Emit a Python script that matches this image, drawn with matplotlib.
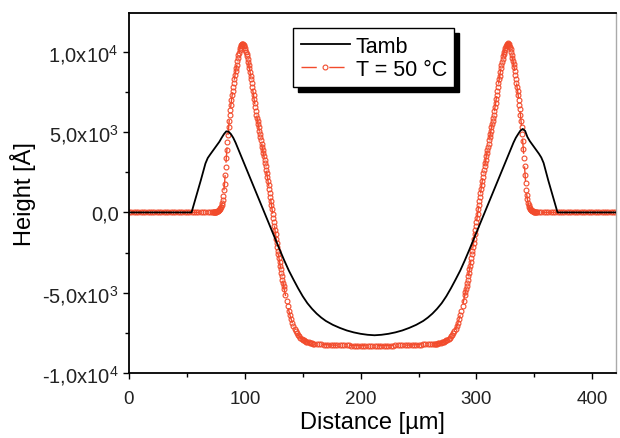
import numpy as np
import matplotlib
matplotlib.use('Agg')
import matplotlib.pyplot as plt
from matplotlib.ticker import FixedLocator, FixedFormatter, MultipleLocator

plt.rcParams['font.family'] = ['Liberation Sans', 'DejaVu Sans']
plt.rcParams['mathtext.default'] = 'regular'

# ---------------- data ----------------
# Black curve: T_amb (distance in um, height in Angstrom)
black_x = [0, 54, 58, 62, 66, 68, 70, 72, 74, 76, 78, 80, 82, 84, 86, 88, 90, 92, 94, 96,
           98, 100, 102, 104, 106, 108, 110, 112, 114, 116, 118, 120, 122, 124, 126, 128,
           130, 134, 138, 142, 146, 150, 154, 158, 162, 166, 170, 176, 182, 188, 194, 200,
           206, 212, 218, 224, 230, 236, 242, 248, 254, 258, 262, 266, 270, 274, 278, 282,
           286, 290, 294, 296, 298, 300, 302, 304, 306, 308, 310, 312, 314, 316, 318, 320,
           322, 324, 326, 328, 330, 332, 334, 336, 338, 340, 342, 344, 346, 348, 350, 352,
           354, 356, 358, 362, 366, 370, 420]
black_y = [0, 0, 1000, 2000, 3050, 3390, 3600, 3800, 4000, 4200, 4400, 4650, 4880, 5050,
           5030, 4880, 4650, 4350, 4000, 3650, 3300, 2950, 2600, 2250, 1900, 1550, 1200,
           850, 500, 150, -200, -550, -900, -1250, -1600, -1950,
           -2300, -2980, -3620, -4180, -4720, -5220, -5650, -6000, -6300, -6550, -6760,
           -7000, -7190, -7350, -7470, -7560, -7620, -7650, -7620, -7560, -7470, -7350,
           -7190, -7000, -6760, -6550, -6300, -6000, -5650, -5220, -4720, -4180, -3620,
           -2980, -2300, -1950, -1600, -1250, -900, -550, -200, 150, 500, 850, 1200, 1550,
           1900, 2250, 2600, 2950, 3300, 3650, 4000, 4350, 4650, 4880, 5100, 5200, 5080,
           4700, 4450, 4250, 4050, 3850, 3650, 3420, 3080, 2000, 1000, 0, 0]

# Red curve: T = 50 C, sampled in segments (start, step, values)
red_seg1_start, red_seg1_step = 0, 2
red_seg1_y = [0, 0, 0, 0, 0, 0, 0, 0, 0, 0,
              0, 0, 0, 0, 0, 0, 0, 0, 0, 0,
              0, 0, 0, 0, 0, 0, 0, 0, 0, 0,
              0, 0, 0, 0, 0, 0, 0]
red_seg2_start, red_seg2_step = 72.5, 0.5
red_seg2_y = [0, 10, 15, 20, 30, 40, 55, 70, 90, 110,
              140, 170, 220, 280, 360, 450, 600, 800, 1050, 1400,
              1800, 2300, 2850, 3400, 3900, 4400, 4850, 5300, 5700, 6050,
              6400, 6700, 7000, 7300, 7550, 7800, 8050, 8300, 8550, 8800,
              9000, 9200, 9400, 9600, 9780, 9950, 10100, 10230, 10340, 10420,
              10460, 10480, 10460, 10410, 10340, 10250, 10140, 10020, 9880, 9730,
              9560, 9380, 9180, 8970, 8750, 8520, 8280, 8040, 7790, 7540,
              7290, 7040, 6800, 6560, 6320, 6090, 5890, 5690, 5490, 5290,
              5090, 4890, 4690, 4490, 4290, 4090, 3890, 3690, 3490, 3290,
              3080, 2870, 2650, 2430, 2200, 1960, 1720, 1470, 1220, 970,
              710, 450, 190, -70, -330, -590, -850, -1110, -1370, -1630,
              -1880, -2130, -2380, -2620, -2860, -3090, -3320, -3540, -3760, -3970,
              -4180, -4380, -4580, -4770]
red_seg3_start, red_seg3_step = 135, 1
red_seg3_y = [-5140, -5490, -5820, -6120, -6400, -6650, -6870, -7060, -7230, -7380,
              -7510, -7620, -7710, -7790, -7860, -7920, -7970, -8010, -8050, -8080,
              -8100, -8120, -8140, -8160, -8170, -8180]
red_seg4_start, red_seg4_step = 162, 2
red_seg4_y = [-8200, -8210, -8220, -8230, -8240, -8250, -8255, -8260, -8265, -8270,
              -8275, -8280, -8280, -8285, -8285, -8290, -8290, -8290, -8295, -8295,
              -8300, -8300, -8300, -8300, -8300, -8300, -8300, -8300, -8300, -8295,
              -8295, -8290, -8290, -8290, -8285, -8285, -8280, -8280, -8275, -8270,
              -8265, -8260, -8255, -8250, -8240, -8230, -8220, -8210, -8200, -8190,
              -8185]
red_seg5_start, red_seg5_step = 263, 1
red_seg5_y = [-8190, -8185, -8180, -8170, -8160, -8140, -8120, -8100, -8080, -8050,
              -8010, -7970, -7920, -7860, -7790, -7710, -7620, -7510, -7380, -7230,
              -7060, -6870, -6650, -6400, -6120, -5820, -5490, -5140]
red_seg6_start, red_seg6_step = 290.5, 0.5
red_seg6_y = [-4960, -4770, -4580, -4380, -4180, -3970, -3760, -3540, -3320, -3090,
              -2860, -2620, -2380, -2130, -1880, -1630, -1370, -1110, -850, -590,
              -330, -70, 190, 450, 710, 970, 1220, 1470, 1720, 1960,
              2200, 2430, 2650, 2870, 3080, 3290, 3490, 3690, 3890, 4090,
              4290, 4490, 4690, 4890, 5090, 5290, 5490, 5690, 5890, 6090,
              6320, 6560, 6800, 7040, 7290, 7540, 7790, 8040, 8280, 8520,
              8750, 8970, 9180, 9380, 9560, 9730, 9880, 10020, 10140, 10250,
              10340, 10410, 10470, 10510, 10540, 10480, 10390, 10280, 10150, 9990,
              9820, 9640, 9440, 9240, 9040, 8830, 8580, 8330, 8080, 7830,
              7580, 7320, 7020, 6720, 6420, 6070, 5720, 5320, 4870, 4420,
              3920, 3420, 2870, 2320, 1820, 1420, 1060, 810, 610, 450,
              360, 280, 220, 170, 140, 110, 90, 70, 55, 40,
              30, 20, 15, 10]
red_seg7_start, red_seg7_step = 354, 2
red_seg7_y = [0, 0, 0, 0, 0, 0, 0, 0, 0, 0,
              0, 0, 0, 0, 0, 0, 0, 0, 0, 0,
              0, 0, 0, 0, 0, 0, 0, 0, 0, 0,
              0, 0, 0, 0]

x_ticks = [0, 100, 200, 300, 400]
x_ticklabels = ['0', '100', '200', '300', '400']
y_ticks = [-10000, -5000, 0, 5000, 10000]
y_ticklabels = ['-1,0x10$^4$', '-5,0x10$^3$', '0,0', '5,0x10$^3$', '1,0x10$^4$']
labels = ['Tamb', 'T = 50 °C']

# ---------------- build red series ----------------
segs = [(red_seg1_start, red_seg1_step, red_seg1_y), (red_seg2_start, red_seg2_step, red_seg2_y),
        (red_seg3_start, red_seg3_step, red_seg3_y), (red_seg4_start, red_seg4_step, red_seg4_y),
        (red_seg5_start, red_seg5_step, red_seg5_y), (red_seg6_start, red_seg6_step, red_seg6_y),
        (red_seg7_start, red_seg7_step, red_seg7_y)]
red_x = np.concatenate([s + st * np.arange(len(v)) for s, st, v in segs])
red_y = np.concatenate([np.asarray(v, float) for _, _, v in segs])

RED = '#f24b2c'

fig = plt.figure(figsize=(6.2, 4.39), dpi=100)
ax = fig.add_axes([129 / 620, 1 - 374 / 439, 487 / 620, 360 / 439])

hr, = ax.plot(red_x, red_y, color=RED, lw=1.0, dashes=(11, 9), marker='o', ms=3.5,
              mfc='none', mec=RED, mew=0.8, label=labels[1], zorder=2)
hb, = ax.plot(black_x, black_y, color='black', lw=1.3, label=labels[0], zorder=3)

ax.set_xlim(0, 420.5)
ax.set_ylim(-10000, 12420)

ax.xaxis.set_major_locator(FixedLocator(x_ticks))
ax.xaxis.set_major_formatter(FixedFormatter(x_ticklabels))
ax.xaxis.set_minor_locator(MultipleLocator(50))
ax.yaxis.set_major_locator(FixedLocator(y_ticks))
ax.yaxis.set_major_formatter(FixedFormatter(y_ticklabels))
ax.yaxis.set_minor_locator(MultipleLocator(2500))

ax.tick_params(axis='both', which='major', direction='out', length=4.5, width=1.0,
               colors='black')
ax.tick_params(axis='x', which='major', labelsize=13.5, pad=8)
ax.tick_params(axis='y', which='major', labelsize=14.5, pad=3)
ax.tick_params(axis='both', which='minor', direction='out', length=3, width=1.0)
ax.tick_params(top=False, right=False, which='both')
for lab in ax.get_xticklabels() + ax.get_yticklabels():
    lab.set_color('#222222')

for s in ['left', 'bottom', 'top']:
    ax.spines[s].set_linewidth(1.3)
    ax.spines[s].set_color('black')
ax.spines['right'].set_linewidth(1.0)
ax.spines['right'].set_color('#aaaaaa')

ax.set_xlabel('Distance [µm]', fontsize=17, labelpad=2.5)
ax.set_ylabel('Height [Å]', fontsize=17, labelpad=4)

leg = ax.legend(handles=[hb, hr], loc='upper left', bbox_to_anchor=(0.337, 0.958),
                borderaxespad=0, frameon=True, fancybox=False, edgecolor='black',
                framealpha=1, fontsize=15.5, handlelength=2.3, handletextpad=0.25,
                borderpad=0.35, labelspacing=0.1, numpoints=1,
                shadow={'ox': 3.5, 'oy': -3.5, 'color': 'black', 'alpha': 1})
leg.get_frame().set_linewidth(1.0)

fig.savefig('out.png', dpi=100)
